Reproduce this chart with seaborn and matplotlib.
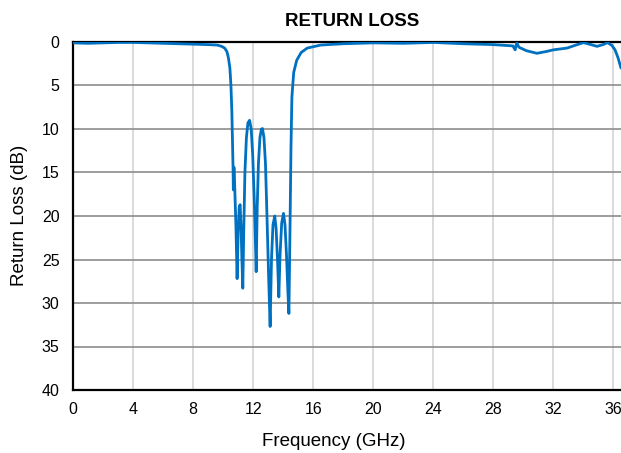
import matplotlib
matplotlib.use("Agg")
import matplotlib.pyplot as plt
import seaborn as sns
import pandas as pd

freq_ghz = [0.0, 1.0, 2.0, 3.0, 4.0, 5.0, 6.0, 7.0, 8.0, 9.0, 9.6, 9.9, 10.1, 10.25,
            10.35, 10.45, 10.52, 10.58, 10.63, 10.66, 10.68, 10.72, 10.76, 10.85, 10.93,
            11.0, 11.07, 11.13, 11.19, 11.25, 11.31, 11.37, 11.45, 11.55, 11.65, 11.76,
            11.87, 11.97, 12.07, 12.15, 12.2, 12.27, 12.35, 12.45, 12.55, 12.62, 12.72,
            12.82, 12.92, 13.03, 13.13, 13.22, 13.32, 13.44, 13.53, 13.62, 13.71, 13.79,
            13.9, 14.02, 14.12, 14.22, 14.32, 14.38, 14.45, 14.52, 14.58, 14.7, 14.9,
            15.2, 15.6, 16.5, 18.0, 20.0, 22.0, 24.0, 26.0, 28.0, 29.3, 29.45, 29.55,
            29.7, 30.2, 30.9, 31.5, 32.0, 32.9, 33.5, 34.0, 34.5, 34.9, 35.3, 35.6,
            35.9, 36.1, 36.3, 36.5]
return_loss_db = [0.1, 0.15, 0.1, 0.05, 0.05, 0.1, 0.15, 0.2, 0.25, 0.3, 0.35, 0.5, 0.7, 1.1,
                  1.8, 3.0, 5.0, 8.0, 12.0, 14.5, 17.0, 14.4, 16.0, 21.0, 27.2,
                  22.0, 19.0, 18.7, 21.0, 25.0, 28.3, 22.0, 15.0, 11.0, 9.3, 9.0,
                  10.0, 13.0, 18.0, 23.0, 26.4, 19.0, 14.0, 11.0, 10.0, 9.95, 11.0,
                  14.0, 20.0, 27.0, 32.7, 25.0, 21.0, 20.0, 21.5, 25.0, 29.3, 24.5,
                  20.8, 19.7, 21.0, 24.5, 29.0, 31.2, 22.0, 12.0, 6.3, 3.5, 2.1,
                  1.2, 0.7, 0.35, 0.2, 0.1, 0.15, 0.05, 0.2, 0.3, 0.45, 0.9, 0.07,
                  0.6, 1.0, 1.3, 1.1, 0.9, 0.7, 0.35, 0.07, 0.3, 0.5, 0.3, 0.07,
                  0.4, 0.9, 1.8, 3.0]
x_ticks = [0, 4, 8, 12, 16, 20, 24, 28, 32, 36]
y_ticks = [0, 5, 10, 15, 20, 25, 30, 35, 40]

df = pd.DataFrame({"Frequency (GHz)": freq_ghz, "Return Loss (dB)": return_loss_db})

sns.set_style("white")
plt.rcParams['font.family'] = ['Liberation Sans', 'DejaVu Sans']
plt.rcParams['text.color'] = 'black'

fig = plt.figure(figsize=(6.21, 4.53), dpi=100)
ax = fig.add_axes([73 / 621, 1 - 390 / 453, (621 - 73) / 621, (390 - 42) / 453])

sns.lineplot(data=df, x="Frequency (GHz)", y="Return Loss (dB)", ax=ax,
             color="#0070C0", linewidth=2.0, sort=False, zorder=3)

ax.set_xlim(0, 36.5)
ax.set_ylim(40, 0)
ax.set_xticks(x_ticks)
ax.set_yticks(y_ticks)
ax.set_xticklabels([str(t) for t in x_ticks], fontsize=11.5)
ax.set_yticklabels([str(t) for t in y_ticks], fontsize=11.5)

ax.xaxis.grid(True, color="#d4d4d4", linewidth=1.2)
ax.yaxis.grid(True, color="#8c8c8c", linewidth=1.2)
ax.set_axisbelow(True)

for s in ["left", "bottom", "top"]:
    ax.spines[s].set_color("black")
    ax.spines[s].set_linewidth(1.6)
ax.spines["right"].set_visible(False)

ax.tick_params(axis="both", which="major", direction="out", length=3.6, width=1,
               color="black", labelcolor="black")
ax.tick_params(axis="x", pad=5)
ax.tick_params(axis="y", pad=6)

ax.set_xlabel("")
ax.set_ylabel("")
fig.text(334 / 621, 1 - 441 / 453, "Frequency (GHz)", fontsize=13.5,
         ha="center", va="center", color="black")
fig.text(20 / 621, 1 - 215 / 453, "Return Loss (dB)", fontsize=13.5,
         ha="center", va="center", rotation=90, color="black")
fig.text(352 / 621, 1 - 21 / 453, "RETURN LOSS", fontsize=13.5,
         fontweight="bold", ha="center", va="center", color="black")

fig.savefig("out.png", dpi=100)
